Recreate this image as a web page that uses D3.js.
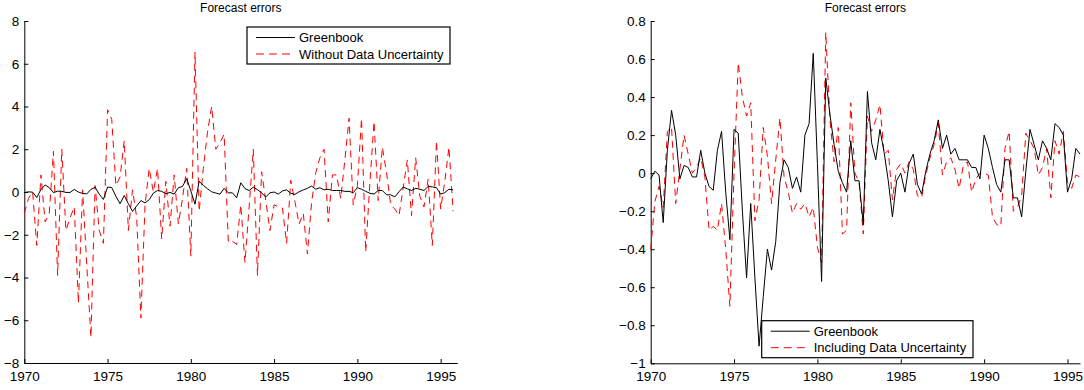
<!DOCTYPE html>
<html>
<head>
<meta charset="utf-8">
<script src="https://cdn.jsdelivr.net/npm/d3@7"></script>
<style>
  body { margin: 0; background: #fff; }
  text { font-family: "Liberation Sans", Arial, sans-serif; fill: #000; }
</style>
</head>
<body>
<div id="chart"></div>
<script>
// quarterly forecast errors, 1970Q1 - 1995Q4
const startYear = 1970;
const xTicks = [1970, 1975, 1980, 1985, 1990, 1995];
const yTicksLeft = [-8, -6, -4, -2, 0, 2, 4, 6, 8];
const yTicksRight = [-1, -0.8, -0.6, -0.4, -0.2, 0, 0.2, 0.4, 0.6, 0.8];

const greenbook = [
  -0.03, 0.01, -0.01, -0.26,
  0.12, 0.33, 0.20, -0.03,
  0.04, 0.03, -0.02, -0.02,
  0.12, 0.00, -0.07, -0.09,
  0.12, 0.22, -0.10, -0.35,
  0.23, 0.21, -0.20, -0.55,
  -0.16, -0.55, -0.91, -0.65,
  -0.40, -0.51, -0.36, -0.05,
  0.07, 0.03, -0.08, -0.02,
  -0.10, 0.20, 0.26, 0.63,
  0.05, -0.57, 0.50, 0.31,
  0.15, 0.01, -0.05, -0.10,
  0.17, -0.04, -0.04, -0.27,
  0.43, 0.16, 0.07, 0.23,
  0.11, -0.04, -0.23, -0.04,
  0.00, -0.10, 0.05, 0.10,
  -0.06, -0.11, 0.01, 0.10,
  0.17, 0.28, 0.13, 0.20,
  0.10, 0.13, 0.07, 0.07,
  0.07, 0.03, 0.03, -0.03,
  0.20, 0.13, 0.03, -0.06,
  -0.10, 0.07, 0.07, -0.13,
  -0.13, -0.23, 0.01, 0.23,
  0.15, 0.07, 0.17, 0.13,
  0.07, 0.26, 0.24, 0.20,
  -0.10, -0.03, 0.13, 0.10
];

const withoutUncertainty = [
  -1.0, -0.3, 0.0, -2.5,
  0.8, -1.4, -1.0, 1.9,
  -3.9, 2.0, -1.8, -1.2,
  -0.7, -5.2, 0.1, -3.4,
  -6.8, 0.3, -1.8, -2.4,
  3.85, 3.4, 0.3, 0.7,
  2.4, -1.8, 0.1, -1.2,
  -5.9, -0.6, 1.1, 0.0,
  1.1, -2.2, 0.5, -1.6,
  0.8, -1.5, -0.3, 1.1,
  -3.0, 6.55, -0.9, 1.1,
  2.8, 4.0, 2.0, 2.3,
  2.7, -2.35, -2.3, -2.45,
  -0.6, -3.3, -0.7, 2.0,
  -3.9, 0.95, -0.4, -1.8,
  -0.6, -0.7, -0.75, -2.4,
  0.55, -0.45, -1.5, -1.0,
  -2.9, -0.5, 0.9, 1.6,
  2.0, -1.4, 0.8, 0.8,
  -0.3, 1.5, 3.45, -0.6,
  0.3, 3.45, -2.8, 0.4,
  3.3, -0.4, 2.1, 0.9,
  -0.6, -0.8, -1.1, 0.2,
  1.5, -1.1, 1.6, -0.2,
  -0.7, 0.6, -2.5, 2.4,
  -0.8, 0.5, 2.1, -0.9
];

const includingUncertainty = [
  -0.40, -0.15, -0.07, -0.18,
  0.22, 0.24, -0.16, 0.02,
  0.20, 0.10, 0.00, 0.03,
  0.08, -0.02, -0.30, -0.28,
  -0.30, -0.16, -0.40, -0.70,
  0.00, 0.58, 0.40, 0.30,
  0.37, -0.25, -0.14, 0.24,
  0.09, -0.16, 0.07, 0.29,
  -0.02, -0.10, -0.21, -0.16,
  -0.19, -0.16, -0.23, -0.18,
  -0.39, -0.47, 0.74, 0.28,
  0.06, 0.24, -0.32, -0.30,
  0.37, 0.00, -0.05, -0.32,
  0.30, 0.22, 0.28, 0.36,
  0.10, 0.12, -0.14, 0.02,
  0.05, 0.00, 0.06, 0.02,
  -0.12, -0.13, -0.01, 0.08,
  0.15, 0.26, -0.01, 0.06,
  0.08, 0.02, -0.08, 0.04,
  0.06, -0.10, -0.03, 0.00,
  0.00, -0.01, -0.23, -0.27,
  -0.28, 0.13, 0.22, -0.20,
  -0.18, -0.12, 0.21, 0.17,
  0.13, -0.01, 0.03, 0.13,
  -0.13, 0.17, 0.10, 0.22,
  -0.05, -0.08, -0.01, -0.02
];

const dates = greenbook.map((_, i) => startYear + i / 4);

const svg = d3.select("#chart").append("svg")
    .attr("width", 1084)
    .attr("height", 390);

const panels = [
  { x0: 24.3, x1: 457.3, y0: 21, y1: 363, xMax: 1996, yDomain: [-8, 8], yTicks: yTicksLeft,
    red: withoutUncertainty, redLabel: "Without Data Uncertainty",
    legend: { x: 247, y: 27, w: 203, h: 37 } },
  { x0: 650.7, x1: 1080, y0: 21, y1: 363.3, xMax: 1995.75, yDomain: [-1, 0.8], yTicks: yTicksRight,
    red: includingUncertainty, redLabel: "Including Data Uncertainty",
    legend: { x: 761.7, y: 320.7, w: 211.3, h: 37 } }
];

panels.forEach(p => {
  const x = d3.scaleLinear().domain([startYear, p.xMax]).range([p.x0, p.x1]);
  const y = d3.scaleLinear().domain(p.yDomain).range([p.y1, p.y0]);
  const g = svg.append("g");

  // title
  g.append("text")
      .attr("x", (p.x0 + p.x1) / 2)
      .attr("y", 11.5)
      .attr("text-anchor", "middle")
      .style("font-size", "12px")
      .text("Forecast errors");

  // axes, ticks pointing inward
  const xAxis = g.append("g")
      .attr("transform", "translate(0," + p.y1 + ")")
      .call(d3.axisBottom(x).tickValues(xTicks).tickFormat(d3.format("d"))
        .tickSizeInner(-4).tickSizeOuter(0).tickPadding(8));
  const yAxis = g.append("g")
      .attr("transform", "translate(" + p.x0 + ",0)")
      .call(d3.axisLeft(y).tickValues(p.yTicks).tickFormat(d3.format("~g"))
        .tickSizeInner(-4).tickSizeOuter(0).tickPadding(5));
  [xAxis, yAxis].forEach(a => {
    a.selectAll("text").style("font-size", "13.5px").attr("fill", "#000");
    a.selectAll("line, path").attr("stroke", "#000");
  });

  const line = vals => d3.line()
      .x((d, i) => x(dates[i]))
      .y(d => y(d))(vals);

  g.append("path")
      .attr("d", line(p.red))
      .attr("fill", "none")
      .attr("stroke", "#ff0000")
      .attr("stroke-width", 1)
      .attr("stroke-dasharray", "7,5");

  g.append("path")
      .attr("d", line(greenbook))
      .attr("fill", "none")
      .attr("stroke", "#000")
      .attr("stroke-width", 1);

  // legend
  const L = p.legend;
  const lg = g.append("g").attr("transform", "translate(" + L.x + "," + L.y + ")");
  lg.append("rect")
      .attr("width", L.w).attr("height", L.h)
      .attr("fill", "#fff").attr("stroke", "#000").attr("stroke-width", 1.2);
  const items = [
    { label: "Greenbook", color: "#000", dash: null },
    { label: p.redLabel, color: "#ff0000", dash: "8,5" }
  ];
  items.forEach((it, i) => {
    const cy = 10.5 + i * 16.5;
    lg.append("line")
        .attr("x1", 9).attr("x2", 48)
        .attr("y1", cy).attr("y2", cy)
        .attr("stroke", it.color)
        .attr("stroke-dasharray", it.dash);
    lg.append("text")
        .attr("x", 52)
        .attr("y", cy + 4.5)
        .style("font-size", "13px")
        .text(it.label);
  });
});
</script>
</body>
</html>
